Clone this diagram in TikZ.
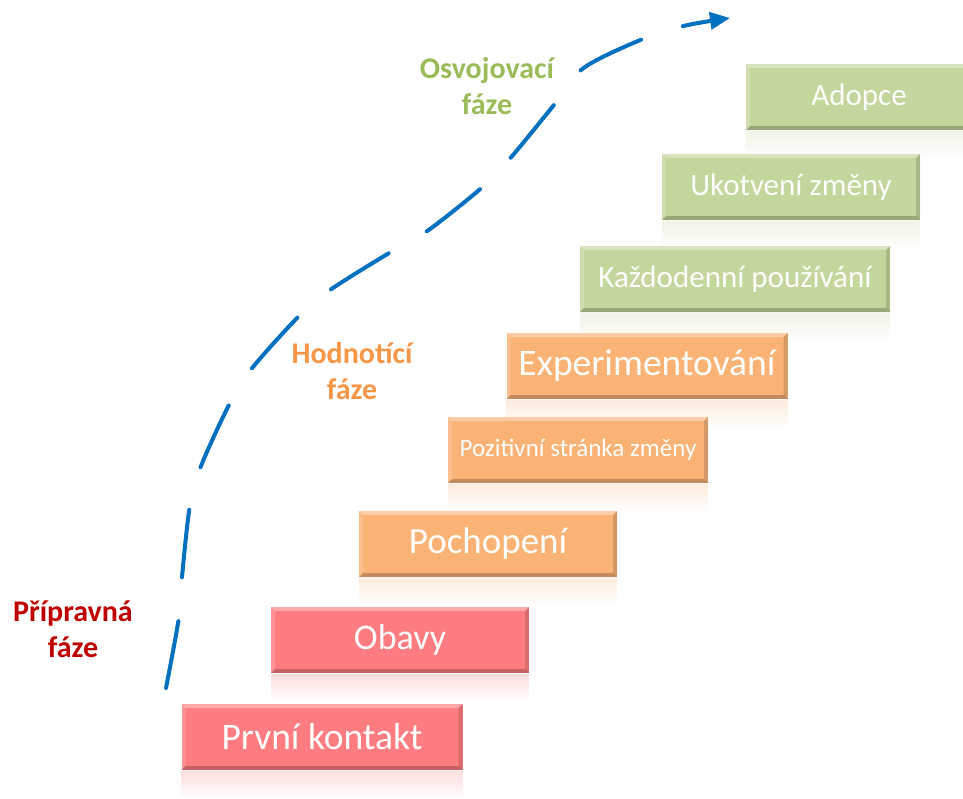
\documentclass[tikz,border=0pt]{standalone}
\usepackage{fontspec}
\setmainfont{Carlito}
\usetikzlibrary{arrows.meta,fadings}

\definecolor{redbox}{HTML}{FF7C80}
\definecolor{orangebox}{HTML}{FAB275}
\definecolor{greenbox}{HTML}{C3D69B}
\definecolor{prepred}{HTML}{C00000}
\definecolor{evalorange}{HTML}{F79646}
\definecolor{adoptgreen}{HTML}{9BBB59}
\definecolor{flowblue}{HTML}{0070C0}

% white veil over the reflections: light at the top, solid at the bottom
\tikzfading[name=reflfade, top color=transparent!25, bottom color=transparent!0]

\tikzset{
  stage/.style={fill=#1, text=white, minimum height=66pt, inner sep=0pt,
    path picture={
      \fill[white,opacity=.35] (path picture bounding box.north west) -- (path picture bounding box.north east)
        -- ([xshift=-4pt,yshift=-4pt]path picture bounding box.north east) -- ([xshift=4pt,yshift=-4pt]path picture bounding box.north west) -- cycle;
      \fill[white,opacity=.18] (path picture bounding box.north west) -- (path picture bounding box.south west)
        -- ([xshift=4pt,yshift=4pt]path picture bounding box.south west) -- ([xshift=4pt,yshift=-4pt]path picture bounding box.north west) -- cycle;
      \fill[black,opacity=.22] (path picture bounding box.south west) -- (path picture bounding box.south east)
        -- ([xshift=-4pt,yshift=4pt]path picture bounding box.south east) -- ([xshift=4pt,yshift=4pt]path picture bounding box.south west) -- cycle;
      \fill[black,opacity=.14] (path picture bounding box.north east) -- (path picture bounding box.south east)
        -- ([xshift=-4pt,yshift=4pt]path picture bounding box.south east) -- ([xshift=-4pt,yshift=-4pt]path picture bounding box.north east) -- cycle;
    }},
  phase/.style={font=\bfseries\fontsize{30}{36}\selectfont, align=center},
  flow/.style={draw=flowblue, line width=4pt, line cap=round, dash pattern=on 68pt off 44pt},
}

% one step of the staircase with its faded reflection underneath
\newcommand\stagebox[7]{%
  \node[stage=#2, minimum width=#5pt, font=\fontsize{#6}{#6}\selectfont] (#1) at (#3,#4) {#7};
  \fill[#2] ([yshift=-1pt]#1.south west) rectangle ([yshift=-28pt]#1.south east);
  \fill[white, path fading=reflfade] ([yshift=-1pt]#1.south west) rectangle ([yshift=-28pt]#1.south east);
}

\begin{document}
\begin{tikzpicture}[x=1pt, y=-1pt]
  \useasboundingbox (0,0) rectangle (963,798);
  \clip (0,0) rectangle (963,798);

  % staircase of stages, drawn from the top step down so each step covers
  % the reflection of the one above it
  \stagebox{adopce}{greenbox}{859}{97}{226}{31}{Adopce}
  \stagebox{ukotveni}{greenbox}{791}{187}{258}{31}{Ukotvení změny}
  \stagebox{kazdodenni}{greenbox}{735}{279}{310}{31}{Každodenní používání}
  \stagebox{experiment}{orangebox}{647}{366}{281}{37.5}{Experimentování}
  \stagebox{pozitivni}{orangebox}{578}{450}{260}{25}{Pozitivní stránka změny}
  \stagebox{pochopeni}{orangebox}{488}{544}{258}{37}{Pochopení}
  \stagebox{obavy}{redbox}{400}{640}{258}{36}{Obavy}
  \stagebox{kontakt}{redbox}{322}{737}{281}{37.5}{První kontakt}

  % phase labels
  \node[phase, text=prepred] (priprava) at (73,629) {Přípravná\\fáze};
  \node[phase, text=evalorange] (hodnoceni) at (352,371) {Hodnotící\\fáze};
  \node[phase, text=adoptgreen] (osvojeni) at (487,86) {Osvojovací\\fáze};

  % dashed progress arrow
  \coordinate (flowstart) at (166,688);
  \coordinate (flowend) at (730,18);
  \draw[flow, -{Triangle[length=20pt,width=17pt]}] plot[smooth, tension=0.55] coordinates {
    (flowstart) (179,617) (182,577) (190,505) (201,466) (231,401) (253,367) (302,313)
    (333,288) (394,250) (430,229) (486,184) (513,155) (558,100) (585,67) (650,36)
    (688,25) (flowend)};
\end{tikzpicture}
\end{document}
